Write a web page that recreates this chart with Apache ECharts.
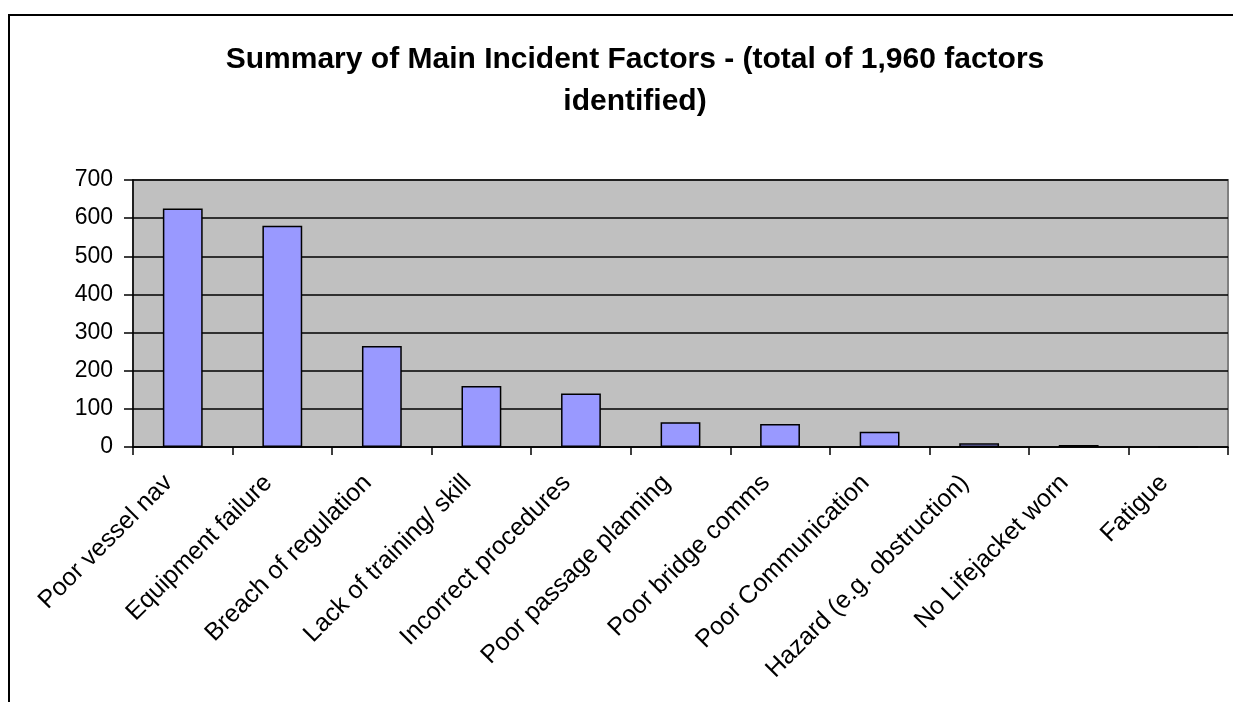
<!DOCTYPE html>
<html>
<head>
<meta charset="utf-8">
<script src="https://cdn.jsdelivr.net/npm/echarts@6/dist/echarts.min.js"></script>
<style>
html,body{margin:0;padding:0;background:#fff;}
#chart{width:1233px;height:702px;}
</style>
</head>
<body>
<div id="chart"></div>
<script>
const categories = ["Poor vessel nav","Equipment failure","Breach of regulation","Lack of training/ skill","Incorrect procedures","Poor passage planning","Poor bridge comms","Poor Communication","Hazard (e.g. obstruction)","No Lifejacket worn","Fatigue"];
const values = [625, 580, 265, 160, 140, 65, 60, 40, 10, 5, 0];
const titleText = "Summary of Main Incident Factors - (total of 1,960 factors\nidentified)";

const chart = echarts.init(document.getElementById('chart'), null, {renderer:'canvas'});
const font = 'Liberation Sans, Arial, sans-serif';
chart.setOption({
  animation: false,
  backgroundColor: '#fff',
  title: {
    text: titleText,
    left: 630, top: 34, textAlign: 'center',
    textStyle: {fontFamily: font, fontSize: 30, fontWeight: 'bold', color: '#000', lineHeight: 42}
  },
  graphic: [{
    type: 'rect', z: 100, silent: true,
    shape: {x: 9, y: 15, width: 1260, height: 720},
    style: {fill: 'none', stroke: '#000', lineWidth: 2}
  }],
  grid: {
    left: 133, right: 5, top: 180, bottom: 255,
    show: true, backgroundColor: '#C0C0C0', borderColor: '#808080', borderWidth: 2
  },
  xAxis: {
    type: 'category', data: categories,
    axisLine: {lineStyle: {color: '#000', width: 1.5}},
    axisTick: {show: true, length: 8, lineStyle: {color: '#000', width: 1.5}},
    axisLabel: {rotate: 45, interval: 0, margin: 18, padding: [0, 20, 0, 0], fontFamily: font, fontSize: 25, color: '#000'},
    splitLine: {show: false}
  },
  yAxis: {
    type: 'value', min: 0, max: 700, interval: 100,
    axisLine: {show: true, lineStyle: {color: '#000', width: 1.5}},
    axisTick: {show: true, length: 9, lineStyle: {color: '#000', width: 1.5}},
    axisLabel: {margin: 20, fontFamily: font, fontSize: 23, color: '#000'},
    splitLine: {show: true, lineStyle: {color: '#000', width: 1.5}}
  },
  series: [{
    type: 'bar', data: values, barWidth: '40%',
    itemStyle: {color: '#9999FF', borderColor: '#000', borderWidth: 1.5}
  }]
});
</script>
</body>
</html>
